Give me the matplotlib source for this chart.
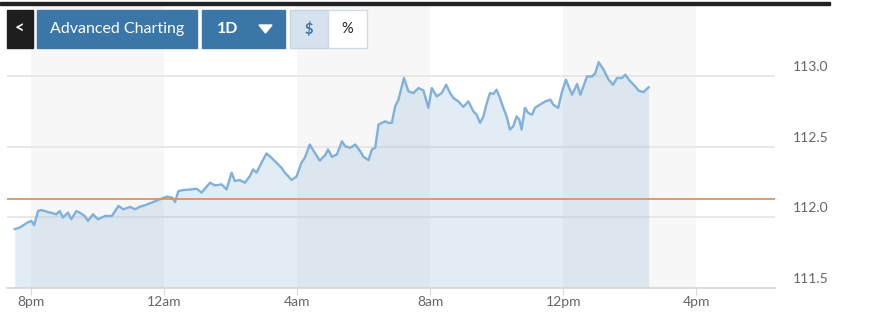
import numpy as np
import matplotlib
matplotlib.use("Agg")
import matplotlib.pyplot as plt
import matplotlib.transforms as mtransforms
from matplotlib.patches import Rectangle, Polygon

plt.rcParams['font.family'] = ['Lato', 'DejaVu Sans']

# minutes after 8pm, price
minutes = [-29, -20, -5, 1, 6, 13, 19, 31, 46, 52, 58, 67, 73, 82, 88, 97, 103, 112, 121, 134,
           146, 158, 167, 179, 188, 197, 206, 218, 233, 245, 254, 257, 260, 266, 275, 290, 299, 308,
           323, 332, 344, 353, 362, 368, 377, 386, 395, 401, 407, 416, 425, 434, 443, 452, 458, 464,
           470, 479, 488, 494, 503, 512, 521, 531, 536, 543, 552, 561, 567, 576, 585, 594, 600, 609,
           615, 621, 627, 633, 639, 645, 651, 657, 663, 669, 673, 681, 690, 699, 708, 717, 723, 732,
           741, 749, 756, 762, 771, 780, 789, 798, 804, 810, 816, 822, 828, 834, 840, 846, 852, 858,
           864, 870, 876, 881, 885, 891, 897, 904, 909, 918, 928, 937, 942, 951, 958, 965, 971, 976,
           985, 991, 1003, 1012, 1018, 1024, 1033, 1042, 1050, 1057, 1066, 1072, 1081, 1090, 1096,
           1105, 1114]
price = [111.916, 111.927, 111.965, 111.974, 111.944, 112.044, 112.051, 112.037, 112.021, 112.044,
         111.998, 112.033, 111.986, 112.044, 112.033, 112.009, 111.974, 112.021, 111.986, 112.009,
         112.009, 112.080, 112.056, 112.073, 112.056, 112.075, 112.085, 112.104, 112.127, 112.146,
         112.139, 112.132, 112.108, 112.185, 112.192, 112.197, 112.202, 112.174, 112.244, 112.225,
         112.232, 112.197, 112.315, 112.256, 112.263, 112.244, 112.291, 112.338, 112.315, 112.385,
         112.451, 112.420, 112.385, 112.350, 112.315, 112.291, 112.263, 112.287, 112.385, 112.420,
         112.514, 112.456, 112.400, 112.440, 112.479, 112.427, 112.444, 112.537, 112.502, 112.491,
         112.514, 112.467, 112.427, 112.404, 112.479, 112.491, 112.655, 112.667, 112.678, 112.667,
         112.667, 112.784, 112.831, 112.925, 112.984, 112.889, 112.878, 112.913, 112.896, 112.773,
         112.913, 112.854, 112.878, 112.937, 112.878, 112.843, 112.819, 112.780, 112.819, 112.749,
         112.725, 112.667, 112.711, 112.803, 112.878, 112.871, 112.901, 112.843, 112.773, 112.713,
         112.620, 112.643, 112.713, 112.690, 112.620, 112.773, 112.737, 112.725, 112.773, 112.796,
         112.819, 112.831, 112.796, 112.773, 112.889, 112.972, 112.913, 112.866, 112.942, 112.866,
         112.995, 112.995, 113.019, 113.096, 113.042, 112.972, 112.937, 112.984, 112.984, 113.007,
         112.960, 112.925, 112.894, 112.885, 112.918]
prev_close = 112.13

tick_minutes = [0, 240, 480, 720, 960, 1200]
tick_labels = ['8pm', '12am', '4am', '8am', '12pm', '4pm']
price_ticks = [111.5, 112.0, 112.5, 113.0]
shaded = [(0, 240), (480, 720), (960, 1200)]

W, H = 870, 326


def fr(x, y, w, h):
    # pixel box (top-left origin) -> figure fraction
    return (x / W, 1 - (y + h) / H, w / W, h / H)


fig = plt.figure(figsize=(W / 100, H / 100), dpi=100)
ax = fig.add_axes(fr(7, 5, 768, 283))

ax.set_xlim(-43, 1342)
ax.set_ylim(111.5, 113.5)

for a, b in shaded:
    ax.axvspan(a, b, color='#f7f7f7', zorder=0, lw=0)

ax.set_yticks(price_ticks)
ax.set_yticklabels(['%.1f' % v for v in price_ticks])
ax.grid(axis='y', color='#e4e4e4', lw=1.2, zorder=1)

ax.fill_between(minutes, price, 111.5, color='#8ab4d6', alpha=0.25, lw=0, zorder=2)
ax.plot(minutes, price, color='#80b0dc', lw=1.7, zorder=3)
ax.axhline(prev_close, color='#e0925e', lw=1.3, zorder=4)

ax.set_xticks(tick_minutes)
ax.set_xticklabels(tick_labels)
ax.yaxis.tick_right()
ax.tick_params(axis='y', length=0, pad=13, labelsize=10, labelcolor='#666666')
ax.tick_params(axis='x', length=5, color='#d8d8d8', pad=1, labelsize=10, labelcolor='#666666')
# price labels sit just above their grid line
shift = mtransforms.ScaledTranslation(0, 2 / 72, fig.dpi_scale_trans)
for lab in ax.get_yticklabels():
    lab.set_verticalalignment('bottom')
    lab.set_transform(lab.get_transform() + shift)
for s in ['top', 'left', 'right']:
    ax.spines[s].set_visible(False)
ax.spines['bottom'].set_color('#d8d8d8')
ax.spines['bottom'].set_linewidth(1.2)

# toolbar above the chart
fig.patches.append(Rectangle(fr(0, 2, 830, 2.5)[:2], 830 / W, 2.5 / H, transform=fig.transFigure,
                             color='#222222', zorder=5))
buttons = [(7, 26, '#1e1e1e', None), (37, 160, '#3b76a8', None), (202, 83, '#3b76a8', None),
           (290, 38, '#d6e3ef', '#c4d4e4'), (328, 39, '#ffffff', '#d0dbe6')]
for x0, w, c, ec in buttons:
    box = fr(x0, 10, w, 38)
    fig.patches.append(Rectangle(box[:2], box[2], box[3], transform=fig.transFigure,
                                 facecolor=c, edgecolor=ec if ec else c, lw=1, zorder=5))

ty = 1 - 29 / H
fig.text(20 / W, ty, '<', color='white', fontsize=12, fontweight='bold', ha='center', va='center', zorder=10)
fig.text(117 / W, ty, 'Advanced Charting', color='white', fontsize=11.5, ha='center', va='center', zorder=10)
fig.text(228 / W, ty, '1D', color='white', fontsize=11.5, fontweight='bold', ha='center', va='center', zorder=10)
tri = np.array([[259, 25], [272, 25], [265.5, 33]])
fig.patches.append(Polygon(np.c_[tri[:, 0] / W, 1 - tri[:, 1] / H], closed=True,
                           transform=fig.transFigure, color='white', zorder=6))
fig.text(309 / W, ty, '$', color='#3b76a8', fontsize=10.5, fontweight='bold', ha='center', va='center', zorder=10)
fig.text(347 / W, ty, '%', color='#222222', fontsize=10.5, ha='center', va='center', zorder=10)

fig.savefig('out.png', dpi=100)
